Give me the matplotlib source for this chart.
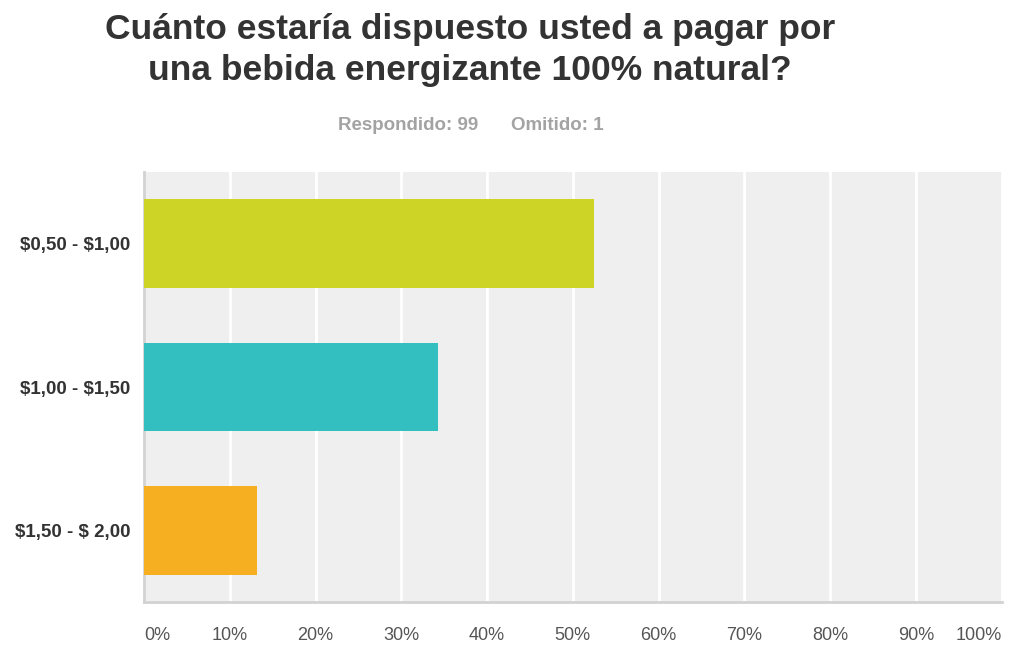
import matplotlib
matplotlib.use('Agg')
import matplotlib.pyplot as plt
import numpy as np

plt.rcParams['font.family'] = ['Liberation Sans', 'DejaVu Sans']
plt.rcParams['text.parse_math'] = False

# respuestas de la encuesta (99 respondidas, 1 omitida)
categories = ['$0,50 - $1,00', '$1,00 - $1,50', '$1,50 - $ 2,00']
percent = [52.53, 34.34, 13.13]
bar_colors = ['#CED426', '#33BEBF', '#F6AF20']
tick_values = list(range(0, 101, 10))
tick_labels = [f'{v}%' for v in tick_values]

title = 'Cuánto estaría dispuesto usted a pagar por\nuna bebida energizante 100% natural?'
answered = 'Respondido: 99'
skipped = 'Omitido: 1'

fig = plt.figure(figsize=(10.09, 6.45), dpi=100)
ax = fig.add_axes([144 / 1009, 1 - 602 / 645, (1001.5 - 144) / 1009, (602 - 172) / 645])

ax.set_facecolor('#EFEFEF')
y = np.arange(len(categories))
ax.barh(y, percent, height=0.62, color=bar_colors, zorder=3)
ax.set_ylim(len(categories) - 0.5, -0.5)
ax.set_xlim(0, 100)

ax.set_xticks(tick_values)
ax.set_xticklabels(tick_labels, fontsize=13, color='#555555')
ax.set_yticks(y)
ax.set_yticklabels(categories, fontsize=13.5, fontweight='bold', color='#333333')
ax.tick_params(axis='both', length=0)
ax.tick_params(axis='x', pad=18)
ax.tick_params(axis='y', pad=10)

labels = ax.get_xticklabels()
labels[0].set_ha('left')
labels[-1].set_ha('right')

ax.grid(axis='x', color='white', lw=2, zorder=1)
for s in ['top', 'right']:
    ax.spines[s].set_visible(False)
for s in ['left', 'bottom']:
    ax.spines[s].set_color('#D2D2D2')
    ax.spines[s].set_linewidth(2)

fig.text(470 / 1009, 1 - 50 / 645, title, ha='center', va='center', fontsize=25.5,
         fontweight='bold', color='#333333', linespacing=1.32)
fig.text(408 / 1009, 1 - 125 / 645, answered, ha='center', va='center', fontsize=13.5,
         fontweight='bold', color='#A3A3A3')
fig.text(557 / 1009, 1 - 125 / 645, skipped, ha='center', va='center', fontsize=13.5,
         fontweight='bold', color='#A3A3A3')

fig.savefig('out.png', dpi=100)
